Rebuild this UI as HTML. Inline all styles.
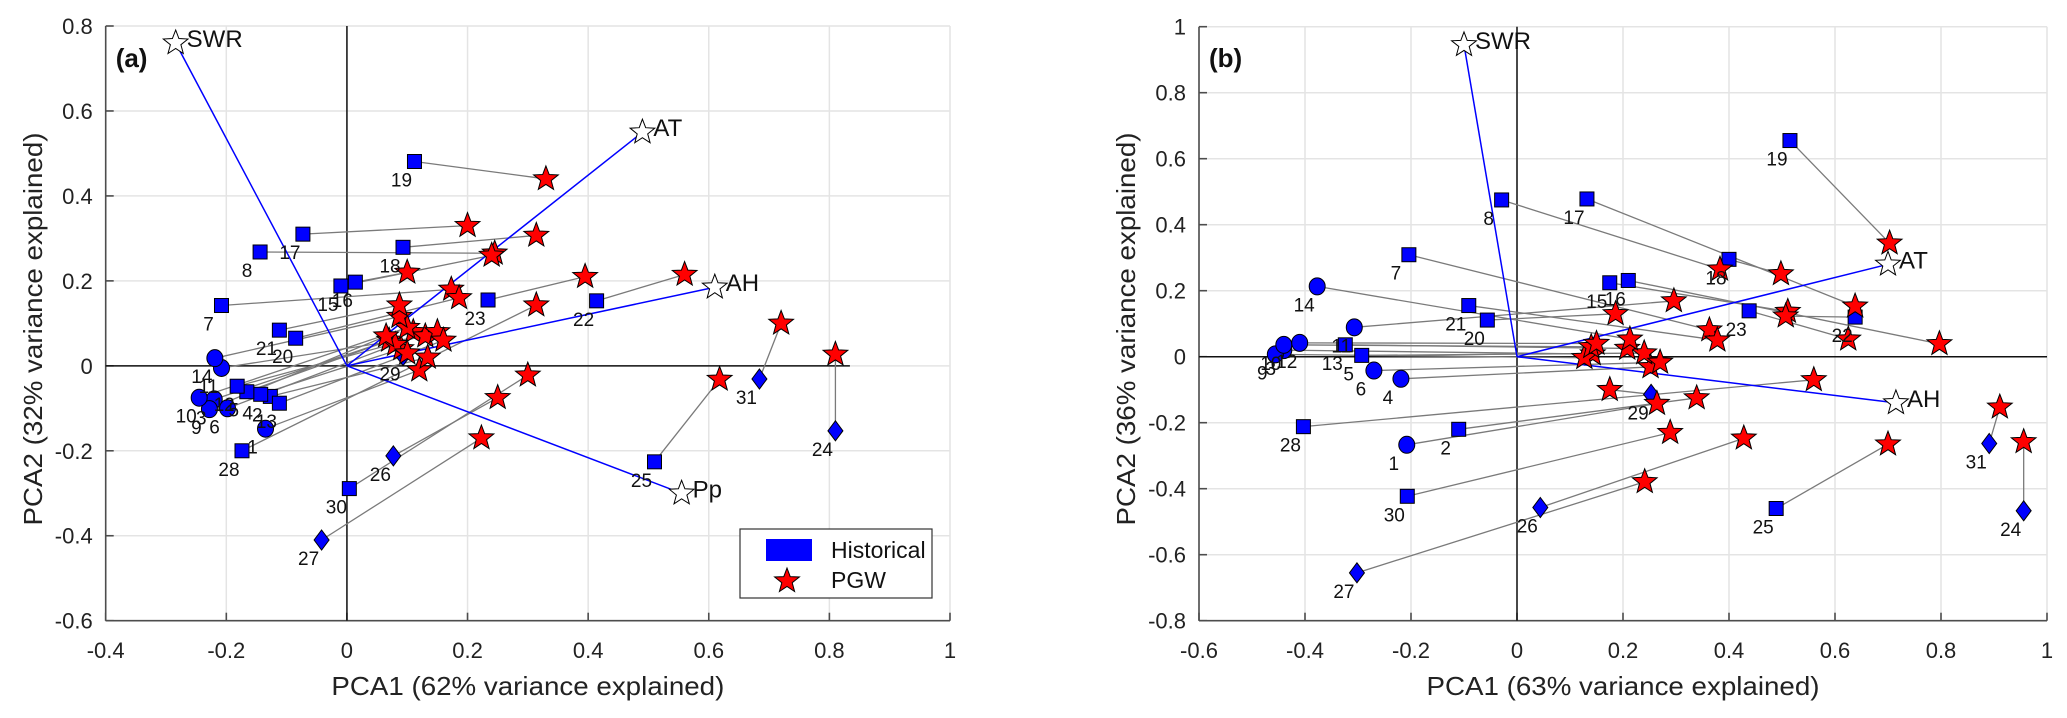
<!DOCTYPE html>
<html><head><meta charset="utf-8"><style>
html,body{margin:0;padding:0;background:#fff;}
svg{display:block;font-family:"Liberation Sans",Arial,sans-serif;}
</style></head><body>
<svg id="chart" width="2067" height="718" viewBox="0 0 2067 718" xmlns="http://www.w3.org/2000/svg"></svg>
<script>
// ---------- Panel (a) data ----------
const xTicksA = [-0.4,-0.2,0,0.2,0.4,0.6,0.8,1];
const yTicksA = [0.8,0.6,0.4,0.2,0,-0.2,-0.4,-0.6];
const idsA   = [1,2,3,4,5,6,9,10,11,12,13,14,7,8,15,16,17,18,19,20,21,22,23,24,25,26,27,28,29,30,31];
const shapeA = ['o','s','o','s','s','o','o','o','o','s','s','o','s','s','s','s','s','s','s','s','s','s','s','d','s','d','d','s','d','s','d'];
const histXA = [-0.135,-0.127,-0.22,-0.143,-0.166,-0.198,-0.228,-0.245,-0.208,-0.182,-0.112,-0.219,-0.208,-0.144,-0.01,0.014,-0.073,0.093,0.112,-0.085,-0.112,0.414,0.234,0.81,0.51,0.077,-0.042,-0.174,0.093,0.004,0.684];
const histYA = [-0.148,-0.072,-0.079,-0.067,-0.061,-0.1,-0.102,-0.075,-0.005,-0.048,-0.088,0.018,0.142,0.268,0.188,0.197,0.31,0.279,0.481,0.065,0.084,0.153,0.155,-0.153,-0.226,-0.212,-0.41,-0.2,0.024,-0.289,-0.031];
const pgwXA  = [0.12,0.134,0.07,0.09,0.11,0.08,0.065,0.1,0.13,0.15,0.16,0.087,0.173,0.245,0.24,0.10,0.20,0.314,0.33,0.186,0.087,0.56,0.395,0.81,0.618,0.25,0.223,0.314,0.10,0.30,0.72];
const pgwYA  = [-0.01,0.02,0.06,0.04,0.08,0.05,0.07,0.09,0.07,0.08,0.06,0.116,0.18,0.265,0.26,0.22,0.33,0.307,0.44,0.16,0.143,0.215,0.21,0.027,-0.032,-0.075,-0.17,0.143,0.03,-0.022,0.10];
const loadNamesA = ['SWR','AT','AH','Pp'];
const loadXA = [-0.284,0.49,0.61,0.555];
const loadYA = [0.76,0.55,0.185,-0.30];
// ---------- Panel (b) data ----------
const xTicksB = [-0.6,-0.4,-0.2,0,0.2,0.4,0.6,0.8,1];
const yTicksB = [1,0.8,0.6,0.4,0.2,0,-0.2,-0.4,-0.6,-0.8];
const idsB   = [1,2,3,4,5,6,9,10,11,12,13,14,7,8,15,16,17,18,19,20,21,22,23,24,25,26,27,28,29,30,31];
const shapeB = ['o','s','o','o','s','o','o','o','o','o','s','o','s','s','s','s','s','s','s','s','s','s','s','d','s','d','d','s','d','s','d'];
const histXB = [-0.208,-0.11,-0.44,-0.219,-0.293,-0.27,-0.456,-0.44,-0.307,-0.41,-0.324,-0.377,-0.204,-0.029,0.175,0.21,0.132,0.40,0.515,-0.056,-0.091,0.638,0.438,0.956,0.489,0.044,-0.302,-0.403,0.253,-0.207,0.891];
const histYB = [-0.267,-0.22,0.02,-0.067,0.004,-0.042,0.007,0.036,0.089,0.042,0.036,0.213,0.309,0.475,0.224,0.231,0.478,0.295,0.655,0.111,0.155,0.12,0.139,-0.467,-0.46,-0.457,-0.655,-0.212,-0.114,-0.423,-0.263];
const pgwXB  = [0.264,0.339,0.143,0.252,0.24,0.27,0.127,0.14,0.296,0.15,0.208,0.213,0.363,0.383,0.511,0.797,0.638,0.498,0.703,0.186,0.378,0.507,0.625,0.956,0.70,0.428,0.241,0.56,0.175,0.289,0.911];
const pgwYB  = [-0.142,-0.125,0.008,-0.031,0.011,-0.017,-0.003,0.03,0.169,0.04,0.025,0.053,0.081,0.265,0.137,0.039,0.153,0.251,0.344,0.13,0.05,0.123,0.053,-0.258,-0.265,-0.247,-0.379,-0.07,-0.1,-0.23,-0.153];
const loadNamesB = ['SWR','AT','AH'];
const loadXB = [-0.1,0.70,0.715];
const loadYB = [0.945,0.28,-0.14];

const NS='http://www.w3.org/2000/svg';
const svg=document.getElementById('chart');
function mk(tag,attrs,parent,text){const e=document.createElementNS(NS,tag);for(const k in attrs)e.setAttribute(k,attrs[k]);if(text!==undefined)e.textContent=text;(parent||svg).appendChild(e);return e;}
function starPts(cx,cy,ro,ri){let p=[];for(let i=0;i<10;i++){const r=i%2?ri:ro;const a=-Math.PI/2+i*Math.PI/5;p.push((cx+r*Math.cos(a)).toFixed(1)+','+(cy+r*Math.sin(a)).toFixed(1));}return p.join(' ');}

function panel(cfg){
  const g=mk('g',{});
  
  
  const sx=v=>cfg.x0+(v-cfg.xmin)*(cfg.x1-cfg.x0)/(cfg.xmax-cfg.xmin);
  const sy=v=>cfg.y1-(v-cfg.ymin)*(cfg.y1-cfg.y0)/(cfg.ymax-cfg.ymin);
  // grid
  cfg.xt.forEach(t=>{const l=mk('line',{x1:sx(t),x2:sx(t),y1:cfg.y0,y2:cfg.y1,stroke:'#e4e4e4','stroke-width':1.5},g);
    });
  cfg.yt.forEach(t=>{const l=mk('line',{x1:cfg.x0,x2:cfg.x1,y1:sy(t),y2:sy(t),stroke:'#e4e4e4','stroke-width':1.5},g);
    });
  // axes
  const ax=mk('line',{x1:cfg.x0,x2:cfg.x0,y1:cfg.y0,y2:cfg.y1,stroke:'#4d4d4d','stroke-width':1.6},g);
  
  const bx=mk('line',{x1:cfg.x0,x2:cfg.x1,y1:cfg.y1,y2:cfg.y1,stroke:'#4d4d4d','stroke-width':1.6},g);
  
  // ticks
  cfg.xt.forEach(t=>{const l=mk('line',{x1:sx(t),x2:sx(t),y1:cfg.y1,y2:cfg.y1-8,stroke:'#4d4d4d','stroke-width':1.6},g);
    });
  cfg.yt.forEach(t=>{const l=mk('line',{x1:cfg.x0,x2:cfg.x0+8,y1:sy(t),y2:sy(t),stroke:'#4d4d4d','stroke-width':1.6},g);
    });
  // tick labels
  cfg.xt.forEach(t=>{const e=mk('text',{x:sx(t),y:658,'font-size':22,'text-anchor':'middle',fill:'#222'},g,String(t));
    });
  cfg.yt.forEach(t=>{const e=mk('text',{x:cfg.x0-13,y:sy(t)+8,'font-size':22,'text-anchor':'end',fill:'#222'},g,String(t));
    });
  // titles
  const xtt=mk('text',{x:(cfg.x0+cfg.x1)/2,y:695,'font-size':26,'text-anchor':'middle',fill:'#222',textLength:393,lengthAdjust:'spacingAndGlyphs'},g,cfg.xTitle);
  
  const ytt=mk('text',{x:0,y:0,'font-size':26,'text-anchor':'middle',fill:'#222',transform:`translate(${cfg.ytX},329) rotate(-90)`,textLength:393,lengthAdjust:'spacingAndGlyphs'},g,cfg.yTitle);
  
  // zero lines
  const zh=mk('line',{x1:cfg.x0,x2:sx(cfg.zeroEnd),y1:sy(0),y2:sy(0),stroke:'#111','stroke-width':1.5},g);
  
  const zv=mk('line',{x1:sx(0),x2:sx(0),y1:cfg.y0,y2:cfg.y1,stroke:'#111','stroke-width':1.5},g);
  
  // connectors
  cfg.ids.forEach((id,i)=>{const l=mk('line',{x1:sx(cfg.hx[i]),y1:sy(cfg.hy[i]),x2:sx(cfg.px[i]),y2:sy(cfg.py[i]),stroke:'#7a7a7a','stroke-width':1.3},g);
    });
  // loading vectors
  cfg.ln.forEach((n,i)=>{const l=mk('line',{x1:sx(0),y1:sy(0),x2:sx(cfg.lx[i]),y2:sy(cfg.ly[i]),stroke:'#0000ff','stroke-width':1.5},g);
    });
  // historical markers
  cfg.ids.forEach((id,i)=>{const x=sx(cfg.hx[i]),y=sy(cfg.hy[i]);let m;
    if(cfg.sh[i]==='o')m=mk('ellipse',{cx:x,cy:y,rx:8,ry:8.5,fill:'#0000ff',stroke:'#000','stroke-width':1},g);
    else if(cfg.sh[i]==='s')m=mk('rect',{x:x-7,y:y-7,width:14,height:14,fill:'#0000ff',stroke:'#000','stroke-width':1},g);
    else m=mk('polygon',{points:`${x},${y-10} ${x+7.5},${y} ${x},${y+10} ${x-7.5},${y}`,fill:'#0000ff',stroke:'#000','stroke-width':1},g);
    });
  // PGW stars
  cfg.ids.forEach((id,i)=>{const s=mk('polygon',{points:starPts(sx(cfg.px[i]),sy(cfg.py[i]),13,5.5),fill:'#ff0000',stroke:'#000','stroke-width':1},g);
    });
  // point labels
  cfg.ids.forEach((id,i)=>{const t=mk('text',{x:sx(cfg.hx[i])-13,y:sy(cfg.hy[i])+25,'font-size':19,'text-anchor':'middle',fill:'#111'},g,String(id));
    });
  // loading stars & labels
  cfg.ln.forEach((n,i)=>{const x=sx(cfg.lx[i]),y=sy(cfg.ly[i]);
    const s=mk('polygon',{points:starPts(x,y,13,5.5),fill:'#fff',stroke:'#000','stroke-width':1},g);
    
    const t=mk('text',{x:x+11,y:y+4,'font-size':24,fill:'#111'},g,n);
    });
  // panel tag
  const pt=mk('text',{x:cfg.x0+10,y:67,'font-size':26,'font-weight':'bold',fill:'#111'},g,cfg.tag);
  
}

panel({name:'panel-a',tag:'(a)',x0:105.7,x1:950,y0:26,y1:620.7,xmin:-0.4,xmax:1,ymin:-0.6,ymax:0.8,
  xt:xTicksA,yt:yTicksA,zeroEnd:0.834,xTitle:'PCA1 (62% variance explained)',yTitle:'PCA2 (32% variance explained)',ytX:42,
  ids:idsA,sh:shapeA,hx:histXA,hy:histYA,px:pgwXA,py:pgwYA,ln:loadNamesA,lx:loadXA,ly:loadYA});
panel({name:'panel-b',tag:'(b)',x0:1199,x1:2047,y0:26.7,y1:620.7,xmin:-0.6,xmax:1,ymin:-0.8,ymax:1,
  xt:xTicksB,yt:yTicksB,zeroEnd:1,xTitle:'PCA1 (63% variance explained)',yTitle:'PCA2 (36% variance explained)',ytX:1135,
  ids:idsB,sh:shapeB,hx:histXB,hy:histYB,px:pgwXB,py:pgwYB,ln:loadNamesB,lx:loadXB,ly:loadYB});

// legend (panel a)
const lg=mk('g',{});


mk('rect',{x:740,y:529,width:192,height:69,fill:'#fff',stroke:'#333','stroke-width':1.2},lg);
const lr=mk('rect',{x:766,y:539,width:46,height:22,fill:'#0000ff'},lg);

const lt1=mk('text',{x:831,y:558,'font-size':23,fill:'#111'},lg,'Historical');

const ls=mk('polygon',{points:starPts(787,581,13,5.5),fill:'#ff0000',stroke:'#000','stroke-width':1},lg);

const lt2=mk('text',{x:831,y:588,'font-size':23,fill:'#111'},lg,'PGW');

</script>
</body></html>
